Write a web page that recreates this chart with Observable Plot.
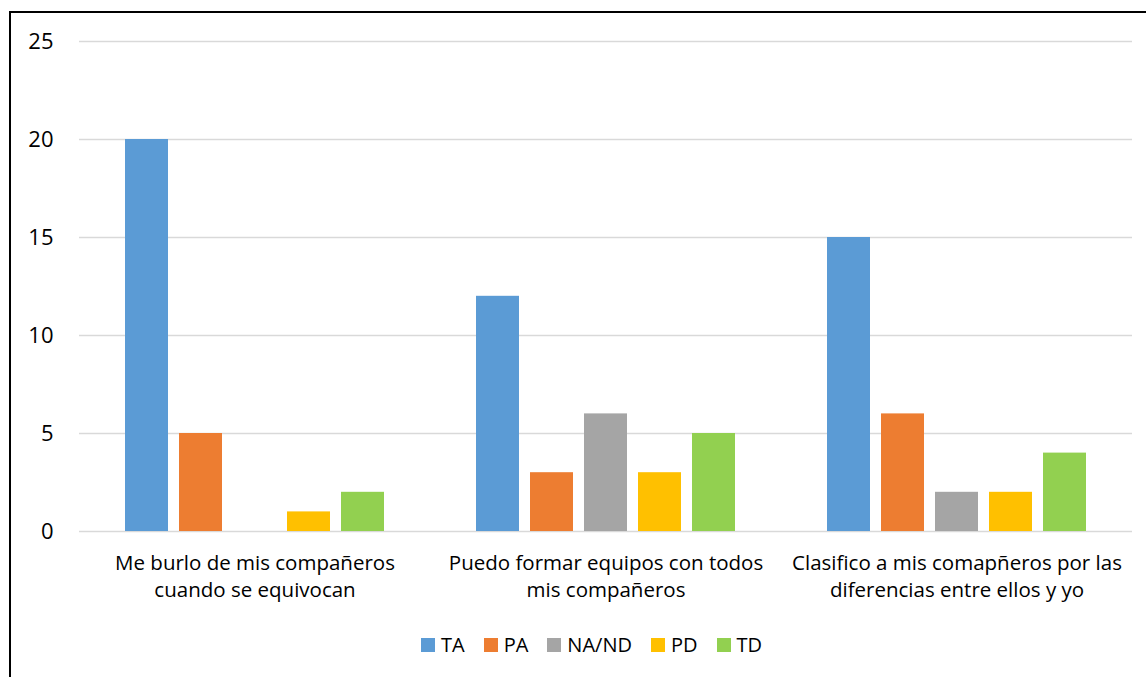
<!DOCTYPE html>
<html>
<head>
<meta charset="utf-8">
<script src="https://cdn.jsdelivr.net/npm/d3@7"></script>
<script src="https://cdn.jsdelivr.net/npm/@observablehq/plot@0.6"></script>
<style>
  html, body { margin: 0; padding: 0; background: #fff; width: 1146px; height: 677px; overflow: hidden; }
  #frame { position: absolute; left: 9px; top: 11px; width: 1300px; height: 900px; border-left: 2px solid #000; border-top: 2px solid #000; box-sizing: border-box; }
  #chart { position: absolute; left: 0; top: 0; }
  #legend { position: absolute; left: 421px; top: 628px; }
  #legend span { margin-right: 19px !important; }
  #legend span svg { margin-right: 6px !important; }
</style>
</head>
<body>
<div id="frame"></div>
<div id="chart"></div>
<div id="legend"></div>
<script>
const categories = [
  "Me burlo de mis compañeros\ncuando se equivocan",
  "Puedo formar equipos con todos\nmis compañeros",
  "Clasifico a mis comapñeros por las\ndiferencias entre ellos y yo"
];
const series = ["TA", "PA", "NA/ND", "PD", "TD"];
const colors = ["#5B9BD5", "#ED7D31", "#A5A5A5", "#FFC000", "#92D050"];
const TA = [20, 12, 15];
const PA = [5, 3, 6];
const NAND = [0, 6, 2];
const PD = [1, 3, 2];
const TD = [2, 5, 4];
const yTicks = [0, 5, 10, 15, 20, 25];

const valuesBySeries = [TA, PA, NAND, PD, TD];
const data = [];
categories.forEach((c, i) => {
  series.forEach((s, j) => {
    data.push({category: c, series: s, value: valuesBySeries[j][i]});
  });
});

const font = "'Open Sans', sans-serif";

const plot = Plot.plot({
  width: 1146,
  height: 612,
  marginTop: 41,
  marginBottom: 81,
  marginLeft: 79,
  marginRight: 14,
  style: {fontFamily: font, fontSize: "20px", color: "#000", background: "transparent"},
  fx: {domain: categories, padding: 0, label: null, axis: null},
  x: {domain: series, paddingInner: 0.2, paddingOuter: 0.85, axis: null},
  y: {domain: [0, 25], label: null, axis: null},
  color: {domain: series, range: colors},
  marks: [
    Plot.gridY(yTicks, {stroke: "#d9d9d9", strokeOpacity: 1, strokeWidth: 1.5}),
    Plot.axisY(yTicks, {tickSize: 0, tickPadding: 26, fontSize: 22, label: null}),
    Plot.axisFx({anchor: "bottom", tickSize: 0, tickPadding: 19, fontSize: 20.5, lineHeight: 1.33, label: null}),
    Plot.barY(data, {fx: "category", x: "series", y: "value", fill: "series"})
  ]
});
document.getElementById("chart").appendChild(plot);

const legend = Plot.legend({
  color: {domain: series, range: colors},
  swatchSize: 14,
  style: {fontFamily: font, fontSize: "20px", color: "#000"}
});
document.getElementById("legend").appendChild(legend);
</script>
</body>
</html>
